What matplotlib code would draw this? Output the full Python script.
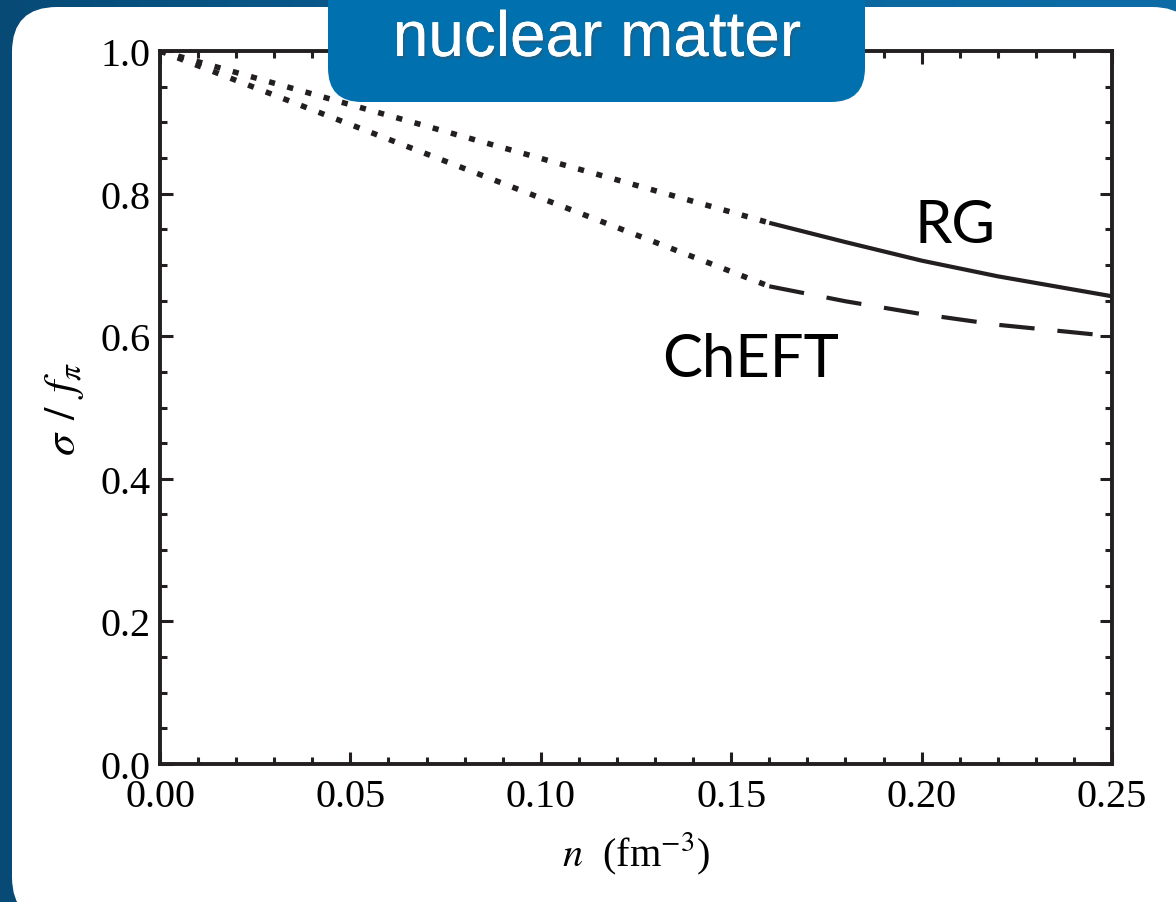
import numpy as np
import matplotlib
matplotlib.use('Agg')
from matplotlib import pyplot as plt
from matplotlib.patches import FancyBboxPatch
from matplotlib.ticker import MultipleLocator, FormatStrFormatter
import matplotlib.patheffects as pe

plt.rcParams['font.family'] = 'Liberation Serif'
plt.rcParams['mathtext.fontset'] = 'stix'

# sigma / f_pi versus density n (fm^-3)
n_low = [0.0, 0.16]
rg_low = [1.0, 0.759]
cheft_low = [1.0, 0.670]

n_high = [0.16, 0.18, 0.20, 0.22, 0.25]
rg_high = [0.759, 0.732, 0.706, 0.684, 0.656]
cheft_high = [0.670, 0.649, 0.631, 0.616, 0.600]

W, H = 1176, 903
INK = '#231f20'
BLUE = '#0070ae'

fig = plt.figure(figsize=(W / 100, H / 100), dpi=100)

# slide background: blue frame with a rounded white card
bg = fig.add_axes([0, 0, 1, 1], zorder=-5)
bg.set_xlim(0, W)
bg.set_ylim(H, 0)
bg.axis('off')
grad = np.linspace(0, 1, 256)[None, :]
bg.imshow(grad, extent=[0, W, H, 0], aspect='auto',
          cmap=matplotlib.colors.LinearSegmentedColormap.from_list('b', ['#074a76', '#0b649c', '#0d6ca6']))
bg.add_patch(FancyBboxPatch((12, 8), 1185, 915, boxstyle='round,pad=0,rounding_size=45',
                            facecolor='white', edgecolor='none'))

ax = fig.add_axes([160 / W, 1 - 765 / H, 952 / W, 713 / H])
ax.patch.set_alpha(0)

dots = (0, (1.1, 2.3))
ax.plot(n_low, rg_low, color=INK, lw=4.0, linestyle=dots, dash_capstyle='butt')
ax.plot(n_low, cheft_low, color=INK, lw=4.0, linestyle=dots, dash_capstyle='butt')
ax.plot(n_high, rg_high, color=INK, lw=3.0, solid_capstyle='butt')
ax.plot(n_high, cheft_high, color=INK, lw=3.0, linestyle=(0, (8.5, 5.5)), dash_capstyle='butt')

ax.text(0.2088, 0.732, 'RG', family='Lato', fontsize=43, ha='center', va='baseline', color='black')
ax.text(0.155, 0.544, 'ChEFT', family='Lato', fontsize=43, ha='center', va='baseline', color='black')

ax.set_xlim(0, 0.25)
ax.set_ylim(0, 1.0)
ax.xaxis.set_major_locator(MultipleLocator(0.05))
ax.xaxis.set_minor_locator(MultipleLocator(0.01))
ax.yaxis.set_major_locator(MultipleLocator(0.2))
ax.yaxis.set_minor_locator(MultipleLocator(0.05))
ax.xaxis.set_major_formatter(FormatStrFormatter('%.2f'))
ax.yaxis.set_major_formatter(FormatStrFormatter('%.1f'))
ax.tick_params(which='both', direction='in', top=True, right=True, color=INK,
               labelsize=29, width=2.2)
ax.tick_params(which='major', length=9)
ax.tick_params(which='minor', length=5)
ax.tick_params(axis='x', pad=10)
ax.tick_params(axis='y', pad=7)
for s in ax.spines.values():
    s.set_linewidth(2.8)
    s.set_color(INK)

ax.set_xlabel(r'$n$  (fm$^{-3}$)', fontsize=29, labelpad=11)
ax.set_ylabel(r'$\sigma\;\,/\;\,f_\pi$', fontsize=32, labelpad=10)

# title tab over the top edge of the card
top = fig.add_axes([0, 0, 1, 1], zorder=10)
top.set_xlim(0, W)
top.set_ylim(H, 0)
top.axis('off')
top.add_patch(FancyBboxPatch((328, -60), 537, 163, boxstyle='round,pad=0,rounding_size=34',
                             facecolor=BLUE, edgecolor='none'))
top.text(597, 40, 'nuclear matter', family='Liberation Sans', fontsize=46, color='white',
         ha='center', va='center',
         path_effects=[pe.withSimplePatchShadow(offset=(1.5, -2), alpha=0.35), pe.Normal()])

fig.savefig('out.png', dpi=100)
